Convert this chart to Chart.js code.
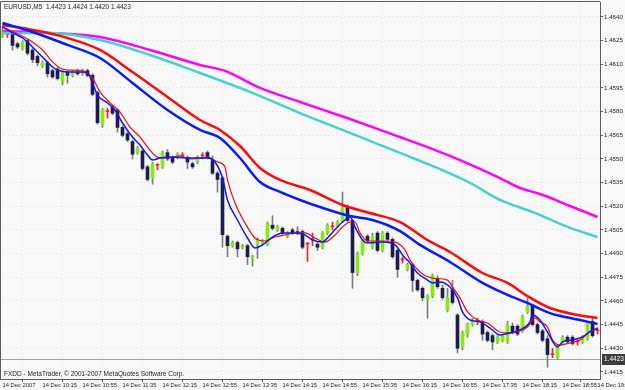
<!DOCTYPE html>
<html>
<head>
<meta charset="utf-8">
<title>EURUSD,M5</title>
<script src="https://cdn.jsdelivr.net/npm/chart.js@4.4.0/dist/chart.umd.min.js"></script>
<style>
  html, body { margin: 0; padding: 0; background: #f8f8f8; }
  #wrap { width: 625px; height: 390px; }
</style>
</head>
<body>
<div id="wrap"><canvas id="chart" width="625" height="390"></canvas></div>
<script>
const symbol = 'EURUSD,M5';
const lastBar = ['1.4423', '1.4424', '1.4420', '1.4423'];
const bidPrice = 1.4423;
const footer = 'FXDD - MetaTrader, \u00a9 2001-2007 MetaQuotes Software Corp.';

// time axis: bar index of each label and its text
const xTicks = [0, 8, 16, 24, 32, 40, 48, 56, 64, 72, 80, 88, 96, 104, 112, 119];
const xLabels = ['14 Dec 2007', '14 Dec 10:15', '14 Dec 10:55', '14 Dec 11:35', '14 Dec 12:15',
  '14 Dec 12:55', '14 Dec 13:35', '14 Dec 14:15', '14 Dec 14:55', '14 Dec 15:35', '14 Dec 16:15',
  '14 Dec 16:55', '14 Dec 17:35', '14 Dec 18:15', '14 Dec 18:55', '14 Dec 19:30'];

const yTicks = [1.4415, 1.4430, 1.4445, 1.4460, 1.4475, 1.4490, 1.4505, 1.4520,
  1.4535, 1.4550, 1.4565, 1.4580, 1.4595, 1.4610, 1.4625, 1.4640];

// M5 candles, one value per bar
const opens = [
  1.4628, 1.4629, 1.4630, 1.4623, 1.4620, 1.4625, 1.4619, 1.4615, 1.4609, 1.4611,
  1.4606, 1.4607, 1.4599, 1.4605, 1.4603, 1.4605, 1.4604, 1.4606, 1.4603, 1.4592,
  1.4572, 1.4580, 1.4583, 1.4581, 1.4570, 1.4566, 1.4561, 1.4554, 1.4555, 1.4545,
  1.4538, 1.4546, 1.4545, 1.4554, 1.4551, 1.4551, 1.4552, 1.4551, 1.4547, 1.4548,
  1.4552, 1.4554, 1.4549, 1.4541, 1.4538, 1.4501, 1.4495, 1.4497, 1.4494, 1.4495,
  1.4487, 1.4496, 1.4497, 1.4496, 1.4508, 1.4505, 1.4506, 1.4501, 1.4505, 1.4504,
  1.4504, 1.4496, 1.4499, 1.4496, 1.4494, 1.4503, 1.4507, 1.4508, 1.4511, 1.4519,
  1.4511, 1.4478, 1.4490, 1.4501, 1.4494, 1.4503, 1.4492, 1.4503, 1.4499, 1.4492,
  1.4486, 1.4480, 1.4483, 1.4473, 1.4468, 1.4461, 1.4463, 1.4474, 1.4468, 1.4454,
  1.4467, 1.4451, 1.4431, 1.4439, 1.4445, 1.4447, 1.4447, 1.4440, 1.4438, 1.4434,
  1.4435, 1.4434, 1.4444, 1.4444, 1.4441, 1.4453, 1.4457, 1.4445, 1.4441, 1.4436,
  1.4426, 1.4424, 1.4433, 1.4437, 1.4437, 1.4434, 1.4434, 1.4436, 1.4447, 1.4441];
const highs = [
  1.4634, 1.4630, 1.4631, 1.4624, 1.4625, 1.4626, 1.4620, 1.4616, 1.4612, 1.4612,
  1.4607, 1.4608, 1.4606, 1.4606, 1.4606, 1.4607, 1.4607, 1.4607, 1.4604, 1.4593,
  1.4582, 1.4582, 1.4584, 1.4582, 1.4571, 1.4567, 1.4562, 1.4558, 1.4556, 1.4546,
  1.4548, 1.4547, 1.4555, 1.4556, 1.4552, 1.4554, 1.4554, 1.4552, 1.4548, 1.4552,
  1.4554, 1.4555, 1.4552, 1.4542, 1.4539, 1.4502, 1.4498, 1.4498, 1.4496, 1.4496,
  1.4489, 1.4500, 1.4499, 1.4510, 1.4514, 1.4508, 1.4507, 1.4504, 1.4506, 1.4507,
  1.4505, 1.4497, 1.4503, 1.4497, 1.4504, 1.4509, 1.4510, 1.4511, 1.4529, 1.4521,
  1.4512, 1.4491, 1.4499, 1.4502, 1.4503, 1.4504, 1.4504, 1.4504, 1.4500, 1.4493,
  1.4488, 1.4484, 1.4484, 1.4474, 1.4469, 1.4464, 1.4477, 1.4476, 1.4470, 1.4468,
  1.4473, 1.4452, 1.4441, 1.4446, 1.4449, 1.4449, 1.4448, 1.4441, 1.4439, 1.4438,
  1.4439, 1.4447, 1.4446, 1.4445, 1.4451, 1.4462, 1.4458, 1.4446, 1.4442, 1.4438,
  1.4430, 1.4432, 1.4438, 1.4438, 1.4438, 1.4436, 1.4438, 1.4447, 1.4449, 1.4443];
const lows = [
  1.4627, 1.4627, 1.4619, 1.4620, 1.4619, 1.4616, 1.4611, 1.4609, 1.4608, 1.4602,
  1.4601, 1.4600, 1.4597, 1.4598, 1.4602, 1.4603, 1.4603, 1.4602, 1.4590, 1.4572,
  1.4570, 1.4576, 1.4578, 1.4567, 1.4564, 1.4561, 1.4550, 1.4553, 1.4543, 1.4536,
  1.4534, 1.4543, 1.4544, 1.4549, 1.4547, 1.4550, 1.4551, 1.4544, 1.4544, 1.4547,
  1.4550, 1.4550, 1.4540, 1.4529, 1.4494, 1.4488, 1.4494, 1.4488, 1.4493, 1.4483,
  1.4482, 1.4487, 1.4496, 1.4495, 1.4505, 1.4504, 1.4502, 1.4500, 1.4502, 1.4502,
  1.4493, 1.4485, 1.4495, 1.4492, 1.4493, 1.4502, 1.4505, 1.4507, 1.4510, 1.4510,
  1.4468, 1.4476, 1.4489, 1.4497, 1.4493, 1.4491, 1.4491, 1.4498, 1.4487, 1.4475,
  1.4484, 1.4479, 1.4466, 1.4466, 1.4460, 1.4449, 1.4462, 1.4468, 1.4461, 1.4453,
  1.4458, 1.4427, 1.4429, 1.4437, 1.4444, 1.4445, 1.4435, 1.4434, 1.4429, 1.4433,
  1.4434, 1.4433, 1.4439, 1.4438, 1.4440, 1.4452, 1.4444, 1.4439, 1.4434, 1.4418,
  1.4424, 1.4423, 1.4432, 1.4433, 1.4432, 1.4432, 1.4433, 1.4435, 1.4437, 1.4439];
const closes = [
  1.4631, 1.4629, 1.4622, 1.4621, 1.4624, 1.4617, 1.4613, 1.4611, 1.4611, 1.4604,
  1.4602, 1.4601, 1.4605, 1.4603, 1.4605, 1.4604, 1.4606, 1.4603, 1.4591, 1.4573,
  1.4581, 1.4580, 1.4579, 1.4570, 1.4565, 1.4562, 1.4553, 1.4557, 1.4544, 1.4537,
  1.4547, 1.4546, 1.4554, 1.4550, 1.4548, 1.4553, 1.4552, 1.4548, 1.4545, 1.4551,
  1.4552, 1.4551, 1.4541, 1.4537, 1.4502, 1.4495, 1.4497, 1.4493, 1.4495, 1.4488,
  1.4488, 1.4499, 1.4498, 1.4509, 1.4506, 1.4507, 1.4503, 1.4503, 1.4503, 1.4503,
  1.4494, 1.4496, 1.4499, 1.4494, 1.4503, 1.4508, 1.4507, 1.4510, 1.4519, 1.4511,
  1.4478, 1.4490, 1.4498, 1.4498, 1.4501, 1.4492, 1.4503, 1.4499, 1.4488, 1.4480,
  1.4486, 1.4483, 1.4473, 1.4467, 1.4462, 1.4463, 1.4476, 1.4469, 1.4462, 1.4462,
  1.4459, 1.4430, 1.4440, 1.4445, 1.4448, 1.4447, 1.4439, 1.4435, 1.4434, 1.4437,
  1.4438, 1.4445, 1.4440, 1.4439, 1.4450, 1.4457, 1.4445, 1.4440, 1.4435, 1.4426,
  1.4426, 1.4431, 1.4437, 1.4434, 1.4433, 1.4434, 1.4437, 1.4446, 1.4438, 1.4441];

// moving averages: [bar, price]
const maFastBlue = [[0, 1.46337], [2, 1.46299], [4, 1.46267], [6, 1.46210], [8, 1.46146], [10, 1.46083],
  [11, 1.46064], [13, 1.46051], [15.5, 1.46051], [17, 1.46045], [18, 1.45982], [19, 1.45905], [21, 1.45855],
  [22.5, 1.45810], [24, 1.45728], [26, 1.45639], [27.5, 1.45588], [29, 1.45525], [30, 1.45493], [31.5, 1.45506],
  [34, 1.45512], [37, 1.45506], [41, 1.45506], [42.5, 1.45481], [44, 1.45379], [45, 1.45240], [47, 1.45113],
  [49, 1.44999], [50.5, 1.44936], [52, 1.44955], [54, 1.45005], [56, 1.45031], [58.5, 1.45031], [60.5, 1.45018],
  [62, 1.44986], [64, 1.44973], [65, 1.44999], [67, 1.45069], [68.5, 1.45113], [69.5, 1.45132], [70.5, 1.45069],
  [72, 1.44986], [73, 1.44967], [76, 1.44973], [78.5, 1.44955], [80.5, 1.44872], [81, 1.44859], [83, 1.44777],
  [85, 1.44732], [86, 1.44714], [87.5, 1.44720], [89.5, 1.44688], [91, 1.44619], [92, 1.44530], [93.5, 1.44479],
  [95.5, 1.44467], [97.5, 1.44428], [99.5, 1.44384], [101.5, 1.44397], [103.5, 1.44416], [105.5, 1.44467],
  [106, 1.44511], [107.5, 1.44479], [109, 1.44403], [111, 1.44308], [112, 1.44340], [114, 1.44353],
  [116, 1.44372], [118, 1.44416], [119, 1.44422]];
const maFastRed = [[0, 1.46337], [3.5, 1.46286], [6, 1.46242], [8, 1.46191], [10, 1.46115], [11.5, 1.46077],
  [13, 1.46064], [16, 1.46058], [18, 1.46013], [19.5, 1.45925], [21.5, 1.45855], [23.5, 1.45797], [25.5, 1.45702],
  [27.5, 1.45639], [29.5, 1.45556], [31, 1.45512], [33, 1.45506], [35.5, 1.45519], [37.5, 1.45500], [39.5, 1.45506],
  [41, 1.45512], [43, 1.45481], [44.5, 1.45449], [45, 1.45367], [46.5, 1.45221], [48.5, 1.45094], [50.5, 1.44999],
  [52.5, 1.44980], [54.5, 1.45005], [56.5, 1.45018], [58.5, 1.45031], [60.5, 1.45031], [62.5, 1.44999],
  [64.5, 1.44973], [66.5, 1.45018], [68, 1.45069], [69.5, 1.45100], [70.5, 1.45100], [71.5, 1.45031],
  [73, 1.44980], [76, 1.44980], [78.5, 1.44973], [80.5, 1.44923], [81.5, 1.44859], [83.5, 1.44783], [86, 1.44745],
  [89, 1.44732], [90, 1.44688], [91.5, 1.44619], [93, 1.44530], [95, 1.44479], [97, 1.44460], [99.5, 1.44403],
  [101.5, 1.44397], [103, 1.44403], [105, 1.44435], [106.5, 1.44492], [107.5, 1.44467], [109, 1.44435],
  [110, 1.44353], [111.5, 1.44320], [113.5, 1.44334], [115.5, 1.44353], [117.5, 1.44403], [119, 1.44428]];
const maMidRed = [[0, 1.46349], [6, 1.46318], [13, 1.46267], [19.5, 1.46191], [26, 1.46051], [33, 1.45893],
  [39.5, 1.45747], [43.5, 1.45684], [47.5, 1.45582], [51.5, 1.45443], [55.5, 1.45367], [61.5, 1.45303],
  [68, 1.45208], [73.5, 1.45157], [79.5, 1.45100], [85, 1.44986], [89.5, 1.44910], [96, 1.44777],
  [101, 1.44714], [105, 1.44631], [109.5, 1.44555], [115, 1.44511], [119, 1.44492]];
const maMidBlue = [[0, 1.46362], [6, 1.46305], [13, 1.46223], [19.5, 1.46140], [26, 1.45982], [33, 1.45810],
  [39.5, 1.45684], [43.5, 1.45633], [47.5, 1.45506], [51.5, 1.45354], [55.5, 1.45291], [59.5, 1.45240],
  [63.5, 1.45195], [69.5, 1.45138], [74, 1.45113], [79.5, 1.45043], [83.5, 1.44955], [89.5, 1.44847],
  [96, 1.44714], [101, 1.44638], [105, 1.44587], [109.5, 1.44523], [115.5, 1.44479], [119, 1.44454]];
const maSlowCyan = [[0, 1.46299], [9.5, 1.46299], [19.5, 1.46254], [29.5, 1.46159], [39.5, 1.46045],
  [49.5, 1.45925], [59.5, 1.45791], [69.5, 1.45665], [79.5, 1.45538], [85.5, 1.45462], [93.5, 1.45348],
  [99.5, 1.45240], [106, 1.45164], [113, 1.45069], [119, 1.45005]];
const maSlowMagenta = [[0, 1.46311], [9.5, 1.46299], [19.5, 1.46273], [29.5, 1.46191], [39.5, 1.46096],
  [44.5, 1.46058], [51.5, 1.45950], [59.5, 1.45861], [69.5, 1.45753], [79.5, 1.45639], [85.5, 1.45569],
  [91.5, 1.45493], [99.5, 1.45379], [103.5, 1.45316], [107.5, 1.45278], [113, 1.45208], [119, 1.45132]];

const bg = '#f8f8f8';
const frameColor = '#5c5c5c';
const textColor = '#1e1e1e';
const fontFamily = '"Liberation Sans", Arial, sans-serif';

const isDoji = i => opens[i] === closes[i];

function maLine(label, pts, color, width, order) {
  return {
    type: 'line',
    label: label,
    data: pts.map(p => ({ x: p[0], y: p[1] })),
    borderColor: color,
    borderWidth: width,
    pointRadius: 0,
    cubicInterpolationMode: 'monotone',
    order: order
  };
}

const mt4Plugin = {
  id: 'mt4',
  beforeDraw(chart) {
    const ctx = chart.ctx;
    ctx.save();
    ctx.fillStyle = bg;
    ctx.fillRect(0, 0, chart.width, chart.height);
    ctx.restore();
  },
  beforeDatasetsDraw(chart) {
    const { ctx, chartArea: a, scales: { y } } = chart;
    const py = Math.round(y.getPixelForValue(bidPrice)) + 0.5;
    ctx.save();
    ctx.strokeStyle = '#a4a4b0';
    ctx.lineWidth = 1;
    ctx.beginPath();
    ctx.moveTo(a.left, py);
    ctx.lineTo(a.right, py);
    ctx.stroke();
    ctx.restore();
  },
  afterDraw(chart) {
    const { ctx, chartArea: a, scales: { y } } = chart;
    ctx.save();
    // top and left edges of the chart window
    ctx.strokeStyle = frameColor;
    ctx.lineWidth = 1;
    ctx.beginPath();
    ctx.moveTo(a.left + 0.5, a.bottom);
    ctx.lineTo(a.left + 0.5, 1.5);
    ctx.lineTo(a.right, 1.5);
    ctx.stroke();

    ctx.font = '6.5px ' + fontFamily;
    ctx.textBaseline = 'middle';
    ctx.fillStyle = textColor;
    ctx.fillText(symbol + '  ' + lastBar.join(' '), 4, 7);
    ctx.fillText(footer, 4, 374);

    // current price tag on the price scale
    const py = Math.round(y.getPixelForValue(bidPrice));
    ctx.fillStyle = '#3c3c3c';
    ctx.fillRect(a.right + 2, py - 5, chart.width - a.right - 2, 11);
    ctx.fillStyle = '#ffffff';
    ctx.fillText(bidPrice.toFixed(4), a.right + 4, py + 0.5);
    ctx.restore();
  }
};

const bars = opens.map((o, i) => i);

new Chart(document.getElementById('chart'), {
  type: 'bar',
  data: {
    datasets: [
      {
        label: 'wick',
        data: bars.map(i => ({ x: i, y: [lows[i], highs[i]] })),
        backgroundColor: c => isDoji(c.dataIndex) ? '#ff2020' : '#7c7c7c',
        barThickness: 1,
        grouped: false,
        order: 20
      },
      {
        label: 'body',
        data: bars.map(i => ({ x: i, y: [opens[i], closes[i]] })),
        backgroundColor: c => {
          const i = c.dataIndex;
          if (isDoji(i)) return '#ff2020';
          return closes[i] > opens[i] ? '#84ec10' : '#1c1c4e';
        },
        barThickness: 3,
        minBarLength: 1,
        grouped: false,
        order: 19
      },
      maLine('MA slow', maSlowMagenta, '#ff00ff', 2.5, 6),
      maLine('MA slow 2', maSlowCyan, '#48d1cc', 2.5, 5),
      maLine('MA mid', maMidRed, '#ff0a0a', 2.5, 4),
      maLine('MA mid 2', maMidBlue, '#0a1aff', 2.5, 3),
      maLine('MA fast', maFastRed, '#ff0a0a', 1.2, 2),
      maLine('MA fast 2', maFastBlue, '#0a1aff', 1.5, 1)
    ]
  },
  options: {
    responsive: false,
    animation: false,
    devicePixelRatio: 1,
    events: [],
    layout: { padding: { top: 2, left: 0, right: 0, bottom: 0 } },
    plugins: { legend: { display: false }, tooltip: { enabled: false } },
    scales: {
      x: {
        type: 'linear',
        min: -0.5,
        max: 119.5,
        offset: false,
        afterBuildTicks: s => { s.ticks = xTicks.map(v => ({ value: v })); },
        afterFit: s => { s.height = 11; s.paddingLeft = 0; s.paddingRight = 0; },
        ticks: {
          autoSkip: false,
          maxRotation: 0,
          align: 'start',
          padding: 0,
          color: textColor,
          font: { family: fontFamily, size: 5.8 },
          callback: (v, idx) => xLabels[idx]
        },
        grid: { color: 'rgba(140,165,165,0.3)', tickColor: frameColor, tickLength: 3 },
        border: { color: frameColor, dash: [1, 3] }
      },
      y: {
        type: 'linear',
        position: 'right',
        min: 1.44105,
        max: 1.46495,
        afterBuildTicks: s => { s.ticks = yTicks.map(v => ({ value: v })); },
        afterFit: s => { s.width = 25; s.paddingTop = 0; s.paddingBottom = 0; },
        ticks: {
          autoSkip: false,
          padding: 1,
          color: textColor,
          font: { family: fontFamily, size: 6.2 },
          callback: v => v.toFixed(4)
        },
        grid: { color: 'rgba(140,165,165,0.3)', tickColor: frameColor, tickLength: 3 },
        border: { color: frameColor, dash: [1, 3] }
      }
    }
  },
  plugins: [mt4Plugin]
});
</script>
</body>
</html>
